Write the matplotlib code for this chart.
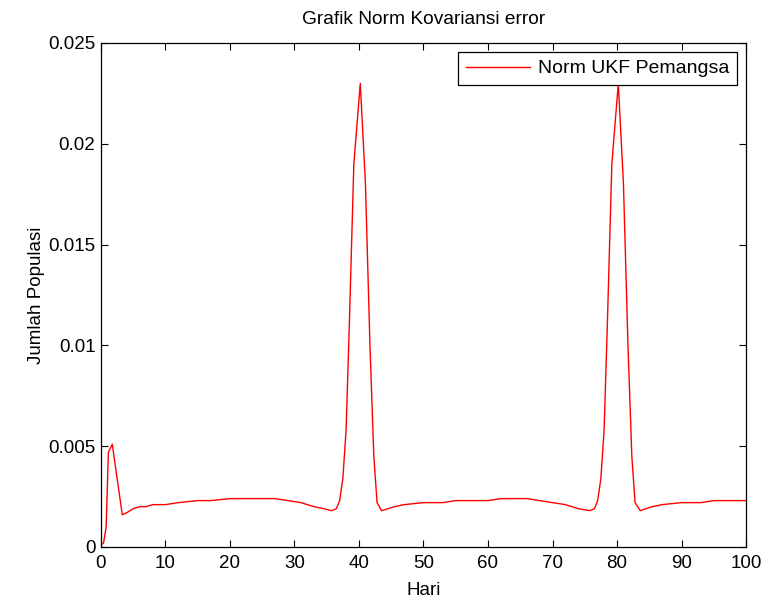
import matplotlib
matplotlib.use("Agg")
import matplotlib.pyplot as plt

plt.rcParams['font.family'] = ['Liberation Sans', 'DejaVu Sans']

# hari (x) dan norm kovariansi error (y)
hari = [0.0, 0.4, 0.8, 1.15, 1.75, 3.3, 4.0, 5.0, 6.0, 7.0, 8.0, 10.0, 12.0,
        15.0, 17.0, 20.0, 25.0, 27.0, 29.0, 31.0, 33.0, 34.5, 35.8, 36.5,
        37.0, 37.5, 38.0, 38.5, 39.2, 40.2, 41.0, 41.7, 42.3, 42.8, 43.5,
        44.5, 45.5, 47.0, 50.0, 53.0, 55.0, 60.0, 62.0, 66.0, 68.0, 70.0,
        72.0, 74.0, 75.8, 76.5, 77.0, 77.5, 78.0, 78.5, 79.2, 80.2, 81.0,
        81.7, 82.3, 82.8, 83.6, 84.5, 85.5, 87.0, 90.0, 93.0, 95.0, 100.0]
norm_ukf = [0.0001, 0.0002, 0.0010, 0.0047, 0.0051, 0.0016, 0.0017, 0.0019,
            0.0020, 0.0020, 0.0021, 0.0021, 0.0022, 0.0023, 0.0023, 0.0024,
            0.0024, 0.0024, 0.0023, 0.0022, 0.0020, 0.0019, 0.0018, 0.0019,
            0.0023, 0.0034, 0.0058, 0.0110, 0.0190, 0.0230, 0.0180, 0.0100,
            0.0045, 0.0022, 0.0018, 0.0019, 0.0020, 0.0021, 0.0022, 0.0022,
            0.0023, 0.0023, 0.0024, 0.0024, 0.0023, 0.0022, 0.0021, 0.0019,
            0.0018, 0.0019, 0.0023, 0.0034, 0.0058, 0.0110, 0.0190, 0.0230,
            0.0180, 0.0100, 0.0045, 0.0022, 0.0018, 0.0019, 0.0020, 0.0021,
            0.0022, 0.0022, 0.0023, 0.0023]

fig = plt.figure(figsize=(7.61, 6.02), dpi=100)
ax = fig.add_axes([0.1327, 0.0914, 0.8476, 0.8372])

ax.plot(hari, norm_ukf, color='red', linewidth=1.0, label='Norm UKF Pemangsa')

ax.set_xlim(0, 100)
ax.set_ylim(0, 0.025)
ax.set_xticks(range(0, 101, 10))
ax.set_yticks([0, 0.005, 0.01, 0.015, 0.02, 0.025])
ax.set_yticklabels(['0', '0.005', '0.01', '0.015', '0.02', '0.025'])
ax.tick_params(direction='in', top=True, right=True, length=5, labelsize=13.5,
               width=0.8)
ax.tick_params(axis='x', pad=6)
ax.tick_params(axis='y', pad=4)
for s in ax.spines.values():
    s.set_linewidth(0.9)

ax.set_title('Grafik Norm Kovariansi error', fontsize=13.8, pad=13.5)
ax.set_xlabel('Hari', fontsize=13.5, labelpad=7)
ax.set_ylabel('Jumlah Populasi', fontsize=13.5, labelpad=2.5)

leg = ax.legend(loc='upper right', fontsize=14, fancybox=False,
                framealpha=1, edgecolor='black', handlelength=3.3,
                borderpad=0.4, handletextpad=0.4, borderaxespad=0.46,
                bbox_to_anchor=(1.0, 1.0))
leg.get_frame().set_linewidth(0.9)

fig.savefig('out.png', dpi=100)
